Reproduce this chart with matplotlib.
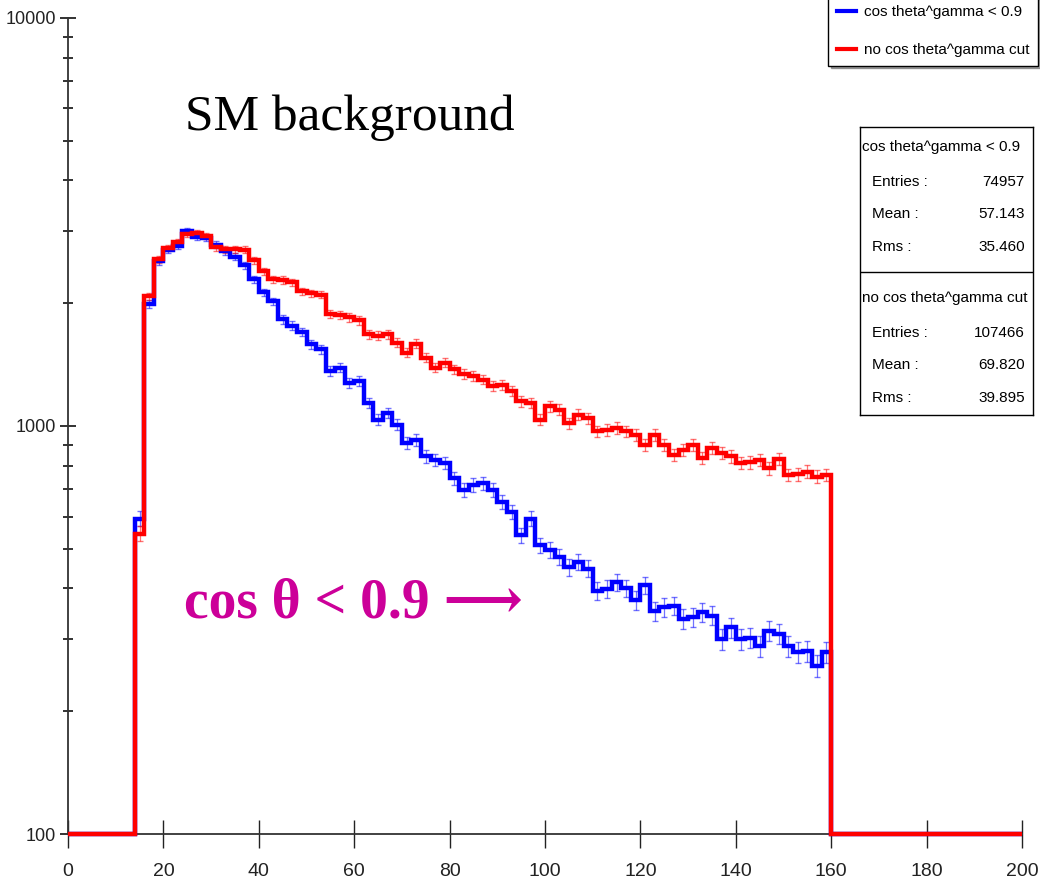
import numpy as np
import matplotlib
matplotlib.use("Agg")
import matplotlib.pyplot as plt
from matplotlib import font_manager

# histogram: 2 GeV bins from 0 to 200, filled only between 14 and 160
bin_edges = np.arange(0, 202, 2)
first_bin = 14

cut_counts = [593, 1987, 2535, 2700, 2760, 3005, 2905, 2890, 2780, 2680,
              2600, 2478, 2290, 2125, 2020, 1825, 1763, 1700, 1586, 1542,
              1364, 1390, 1276, 1289, 1140, 1036, 1077, 1007, 908, 925,
              842, 826, 811, 745, 697, 717, 724, 697, 652, 617,
              540, 593, 510, 496, 478, 451, 464, 447, 395, 399,
              414, 400, 374, 407, 352, 360, 363, 337, 340, 350,
              343, 300, 321, 300, 303, 289, 315, 309, 289, 279,
              281, 258, 279]

nocut_counts = [545, 2078, 2565, 2730, 2824, 2953, 2970, 2922, 2743, 2710,
                2714, 2705, 2549, 2395, 2290, 2280, 2250, 2138, 2114, 2100,
                1880, 1870, 1845, 1814, 1678, 1666, 1678, 1601, 1513, 1590,
                1471, 1390, 1430, 1376, 1343, 1328, 1300, 1253, 1260, 1218,
                1150, 1140, 1036, 1118, 1097, 1017, 1066, 1046, 970, 979,
                989, 970, 952, 899, 950, 900, 850, 874, 900, 834,
                883, 858, 842, 811, 815, 826, 788, 830, 759, 762,
                773, 752, 759]

legend_labels = ["cos theta^gamma < 0.9", "no cos theta^gamma cut"]
stats = [("cos theta^gamma < 0.9", "74957", "57.143", "35.460"),
         ("no cos theta^gamma cut", "107466", "69.820", "39.895")]

ymin, ymax = 100, 10000


def full_hist(counts):
    h = np.zeros(len(bin_edges) - 1)
    start = np.searchsorted(bin_edges, first_bin)
    h[start:start + len(counts)] = counts
    return h


# narrow-ish sans for the ROOT canvas texts
names = {f.name for f in font_manager.fontManager.ttflist}
if "Liberation Sans Narrow" in names:
    sans = "Liberation Sans Narrow"
    small = 13
else:
    sans = "Liberation Sans"
    small = 11
serif = ["Liberation Serif", "DejaVu Serif", "DejaVu Sans"]

fig = plt.figure(figsize=(10.4, 8.85), dpi=100)
ax = fig.add_axes([0.0654, 0.0576, 0.9173, 0.9221])

centers = 0.5 * (bin_edges[:-1] + bin_edges[1:])
handles = []
for counts, col in [(cut_counts, "#0000ff"), (nocut_counts, "#ff0000")]:
    h = full_hist(counts)
    st = ax.stairs(np.clip(h, ymin, None), bin_edges, baseline=None,
                   color=col, lw=3.2, clip_on=False, zorder=3)
    ok = h > 0
    ax.errorbar(centers[ok], h[ok], yerr=np.sqrt(h[ok]), fmt="none",
                ecolor=col, elinewidth=0.9, capsize=2.5, alpha=0.55, zorder=2)
    handles.append(st)

ax.set_yscale("log")
ax.set_xlim(0, 200)
ax.set_ylim(ymin, ymax)
ax.set_xticks(np.arange(0, 201, 20))
ax.set_yticks([100, 1000, 10000])
ax.set_yticklabels(["100", "1000", "10000"])
ax.yaxis.set_minor_locator(matplotlib.ticker.LogLocator(subs=np.arange(2, 10)))
ax.yaxis.set_minor_formatter(matplotlib.ticker.NullFormatter())
ax.tick_params(axis="x", direction="inout", length=20, width=1.0, pad=11,
               colors="#222222", labelsize=14, labelfontfamily=sans)
ax.tick_params(axis="y", which="major", direction="inout", length=11,
               width=1.3, pad=3, colors="#222222", labelsize=13,
               labelfontfamily=sans)
ax.tick_params(axis="y", which="minor", direction="inout", length=7,
               width=1.3, colors="#222222")
for s in ["top", "right"]:
    ax.spines[s].set_visible(False)
for s in ["left", "bottom"]:
    ax.spines[s].set_color("#333333")
    ax.spines[s].set_linewidth(1.3)

ax.text(0.123, 0.878, "SM background", transform=ax.transAxes,
        family=serif, fontsize=37, va="center", ha="left")
ax.text(0.122, 0.283, "cos θ < 0.9 ⟶", transform=ax.transAxes,
        family=serif, fontsize=40, fontweight="bold", color="#cc0099",
        va="center", ha="left")

leg = fig.legend(handles, legend_labels, loc="upper right",
                 bbox_to_anchor=(0.998, 1.004), bbox_transform=fig.transFigure,
                 frameon=True, fancybox=False, shadow=True, edgecolor="black",
                 handlelength=1.3, handletextpad=0.5, labelspacing=1.6,
                 borderpad=0.55, borderaxespad=0,
                 prop=font_manager.FontProperties(family=sans, size=small))
leg.get_frame().set_linewidth(1.0)
for ln in leg.get_lines():
    ln.set_linewidth(3)

# stats box
sb = fig.add_axes([0.827, 0.531, 0.166, 0.3255])
sb.set_xticks([])
sb.set_yticks([])
for s in sb.spines.values():
    s.set_linewidth(1.0)
    s.set_color("black")
sb.axhline(0.4965, color="black", lw=1.0)
rows = [0.93, 0.809, 0.698, 0.583]
for k, (title, ent, mean, rms) in enumerate(stats):
    off = -0.525 * k
    sb.text(0.012, rows[0] + off, title, va="center", ha="left",
            fontsize=small, family=sans)
    for yy, lab, val in zip(rows[1:], ["Entries :", "Mean :", "Rms :"],
                            [ent, mean, rms]):
        sb.text(0.07, yy + off, lab, va="center", ha="left",
                fontsize=small, family=sans)
        sb.text(0.954, yy + off, val, va="center", ha="right",
                fontsize=small, family=sans)

fig.savefig("out.png", dpi=100)
